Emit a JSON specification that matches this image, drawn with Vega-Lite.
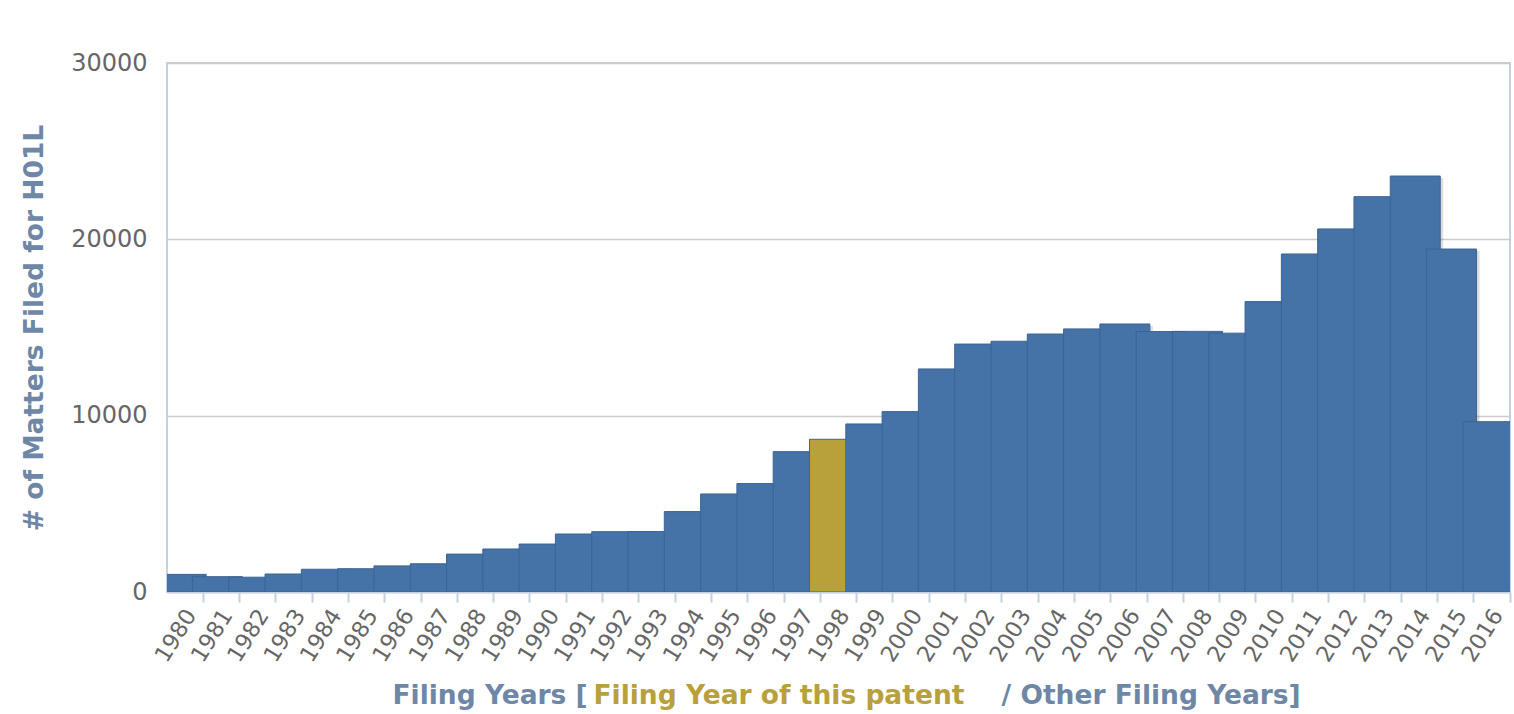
{
  "$schema": "https://vega.github.io/schema/vega-lite/v6.json",
  "autosize": {"type": "none"},
  "width": 1343,
  "height": 529,
  "padding": {"left": 167, "top": 63, "right": 4, "bottom": 122},
  "background": "#ffffff",
  "config": {
    "view": {"stroke": "#c3d1e0", "strokeWidth": 2},
    "font": "DejaVu Sans"
  },
  "data": {
    "values": [
      {"Year": 1980, "Count": 1000, "Type": "Other Filing Years"},
      {"Year": 1981, "Count": 870, "Type": "Other Filing Years"},
      {"Year": 1982, "Count": 840, "Type": "Other Filing Years"},
      {"Year": 1983, "Count": 1020, "Type": "Other Filing Years"},
      {"Year": 1984, "Count": 1290, "Type": "Other Filing Years"},
      {"Year": 1985, "Count": 1320, "Type": "Other Filing Years"},
      {"Year": 1986, "Count": 1480, "Type": "Other Filing Years"},
      {"Year": 1987, "Count": 1600, "Type": "Other Filing Years"},
      {"Year": 1988, "Count": 2150, "Type": "Other Filing Years"},
      {"Year": 1989, "Count": 2440, "Type": "Other Filing Years"},
      {"Year": 1990, "Count": 2720, "Type": "Other Filing Years"},
      {"Year": 1991, "Count": 3290, "Type": "Other Filing Years"},
      {"Year": 1992, "Count": 3420, "Type": "Other Filing Years"},
      {"Year": 1993, "Count": 3430, "Type": "Other Filing Years"},
      {"Year": 1994, "Count": 4560, "Type": "Other Filing Years"},
      {"Year": 1995, "Count": 5560, "Type": "Other Filing Years"},
      {"Year": 1996, "Count": 6150, "Type": "Other Filing Years"},
      {"Year": 1997, "Count": 7960, "Type": "Other Filing Years"},
      {"Year": 1998, "Count": 8660, "Type": "Filing Year of this patent"},
      {"Year": 1999, "Count": 9530, "Type": "Other Filing Years"},
      {"Year": 2000, "Count": 10230, "Type": "Other Filing Years"},
      {"Year": 2001, "Count": 12650, "Type": "Other Filing Years"},
      {"Year": 2002, "Count": 14060, "Type": "Other Filing Years"},
      {"Year": 2003, "Count": 14220, "Type": "Other Filing Years"},
      {"Year": 2004, "Count": 14630, "Type": "Other Filing Years"},
      {"Year": 2005, "Count": 14920, "Type": "Other Filing Years"},
      {"Year": 2006, "Count": 15200, "Type": "Other Filing Years"},
      {"Year": 2007, "Count": 14770, "Type": "Other Filing Years"},
      {"Year": 2008, "Count": 14780, "Type": "Other Filing Years"},
      {"Year": 2009, "Count": 14680, "Type": "Other Filing Years"},
      {"Year": 2010, "Count": 16470, "Type": "Other Filing Years"},
      {"Year": 2011, "Count": 19170, "Type": "Other Filing Years"},
      {"Year": 2012, "Count": 20590, "Type": "Other Filing Years"},
      {"Year": 2013, "Count": 22420, "Type": "Other Filing Years"},
      {"Year": 2014, "Count": 23590, "Type": "Other Filing Years"},
      {"Year": 2015, "Count": 19450, "Type": "Other Filing Years"},
      {"Year": 2016, "Count": 9660, "Type": "Other Filing Years"}
    ]
  },
  "resolve": {"axis": {"x": "independent"}},
  "layer": [
    {
      "mark": {"type": "bar", "width": 50, "xOffset": -1, "yOffset": 2, "fill": "#000000", "opacity": 0.13, "clip": true},
      "encoding": {
        "x": {"field": "Year", "type": "ordinal", "scale": {"paddingInner": 0, "paddingOuter": 0}, "axis": null},
        "y": {"field": "Count", "type": "quantitative", "scale": {"domain": [0, 30000], "nice": false},
          "axis": {
            "values": [0, 10000, 20000, 30000],
            "format": "d",
            "grid": true, "gridColor": "#cccccc", "gridWidth": 1.5,
            "domain": false, "ticks": false,
            "labelFont": "DejaVu Sans", "labelFontSize": 24, "labelColor": "#666666", "labelPadding": 20,
            "title": "# of Matters Filed for H01L",
            "titleFont": "DejaVu Sans", "titleFontSize": 26.5, "titleFontWeight": "bold", "titleColor": "#6e87a6",
            "titleAngle": -90, "titleX": -125, "titleY": 264.5, "titleAlign": "center", "titleBaseline": "alphabetic"
          }
        }
      }
    },
    {
      "mark": {"type": "bar", "width": 50, "xOffset": -4, "stroke": "#3c6494", "strokeWidth": 1, "clip": true},
      "encoding": {
        "x": {"field": "Year", "type": "ordinal", "scale": {"paddingInner": 0, "paddingOuter": 0},
          "axis": {
            "orient": "bottom",
            "bandPosition": 1,
            "labelAngle": -58, "labelAlign": "right", "labelBaseline": "middle", "labelOffset": 6,
            "labelFont": "DejaVu Sans", "labelFontSize": 22.5, "labelColor": "#666666", "labelPadding": 9,
            "ticks": true, "tickSize": 10, "tickColor": "#c3d1e0", "tickWidth": 2,
            "domain": true, "domainColor": "#c3d1e0", "domainWidth": 2,
            "grid": false,
            "title": "Filing Years [",
            "titleFont": "DejaVu Sans", "titleFontSize": 26.5, "titleFontWeight": "bold", "titleColor": "#6e87a6",
            "titleX": 225, "titleY": 111, "titleAlign": "left", "titleBaseline": "alphabetic"
          }
        },
        "y": {"field": "Count", "type": "quantitative"},
        "color": {"field": "Type", "type": "nominal",
          "scale": {"domain": ["Filing Year of this patent", "Other Filing Years"], "range": ["#b8a03a", "#4572a7"]},
          "legend": null}
      }
    },
    {
      "mark": {"type": "bar", "opacity": 0},
      "encoding": {
        "x": {"field": "Year", "type": "ordinal",
          "axis": {
            "orient": "bottom", "labels": false, "ticks": false, "domain": false, "grid": false,
            "title": "Filing Year of this patent",
            "titleFont": "DejaVu Sans", "titleFontSize": 26.5, "titleFontWeight": "bold", "titleColor": "#b8a03a",
            "titleX": 426, "titleY": 111, "titleAlign": "left", "titleBaseline": "alphabetic"
          }
        },
        "y": {"field": "Count", "type": "quantitative"}
      }
    },
    {
      "mark": {"type": "bar", "opacity": 0},
      "encoding": {
        "x": {"field": "Year", "type": "ordinal",
          "axis": {
            "orient": "bottom", "labels": false, "ticks": false, "domain": false, "grid": false,
            "title": "/ Other Filing Years]",
            "titleFont": "DejaVu Sans", "titleFontSize": 26.5, "titleFontWeight": "bold", "titleColor": "#6e87a6",
            "titleX": 834, "titleY": 111, "titleAlign": "left", "titleBaseline": "alphabetic"
          }
        },
        "y": {"field": "Count", "type": "quantitative"}
      }
    }
  ]
}
